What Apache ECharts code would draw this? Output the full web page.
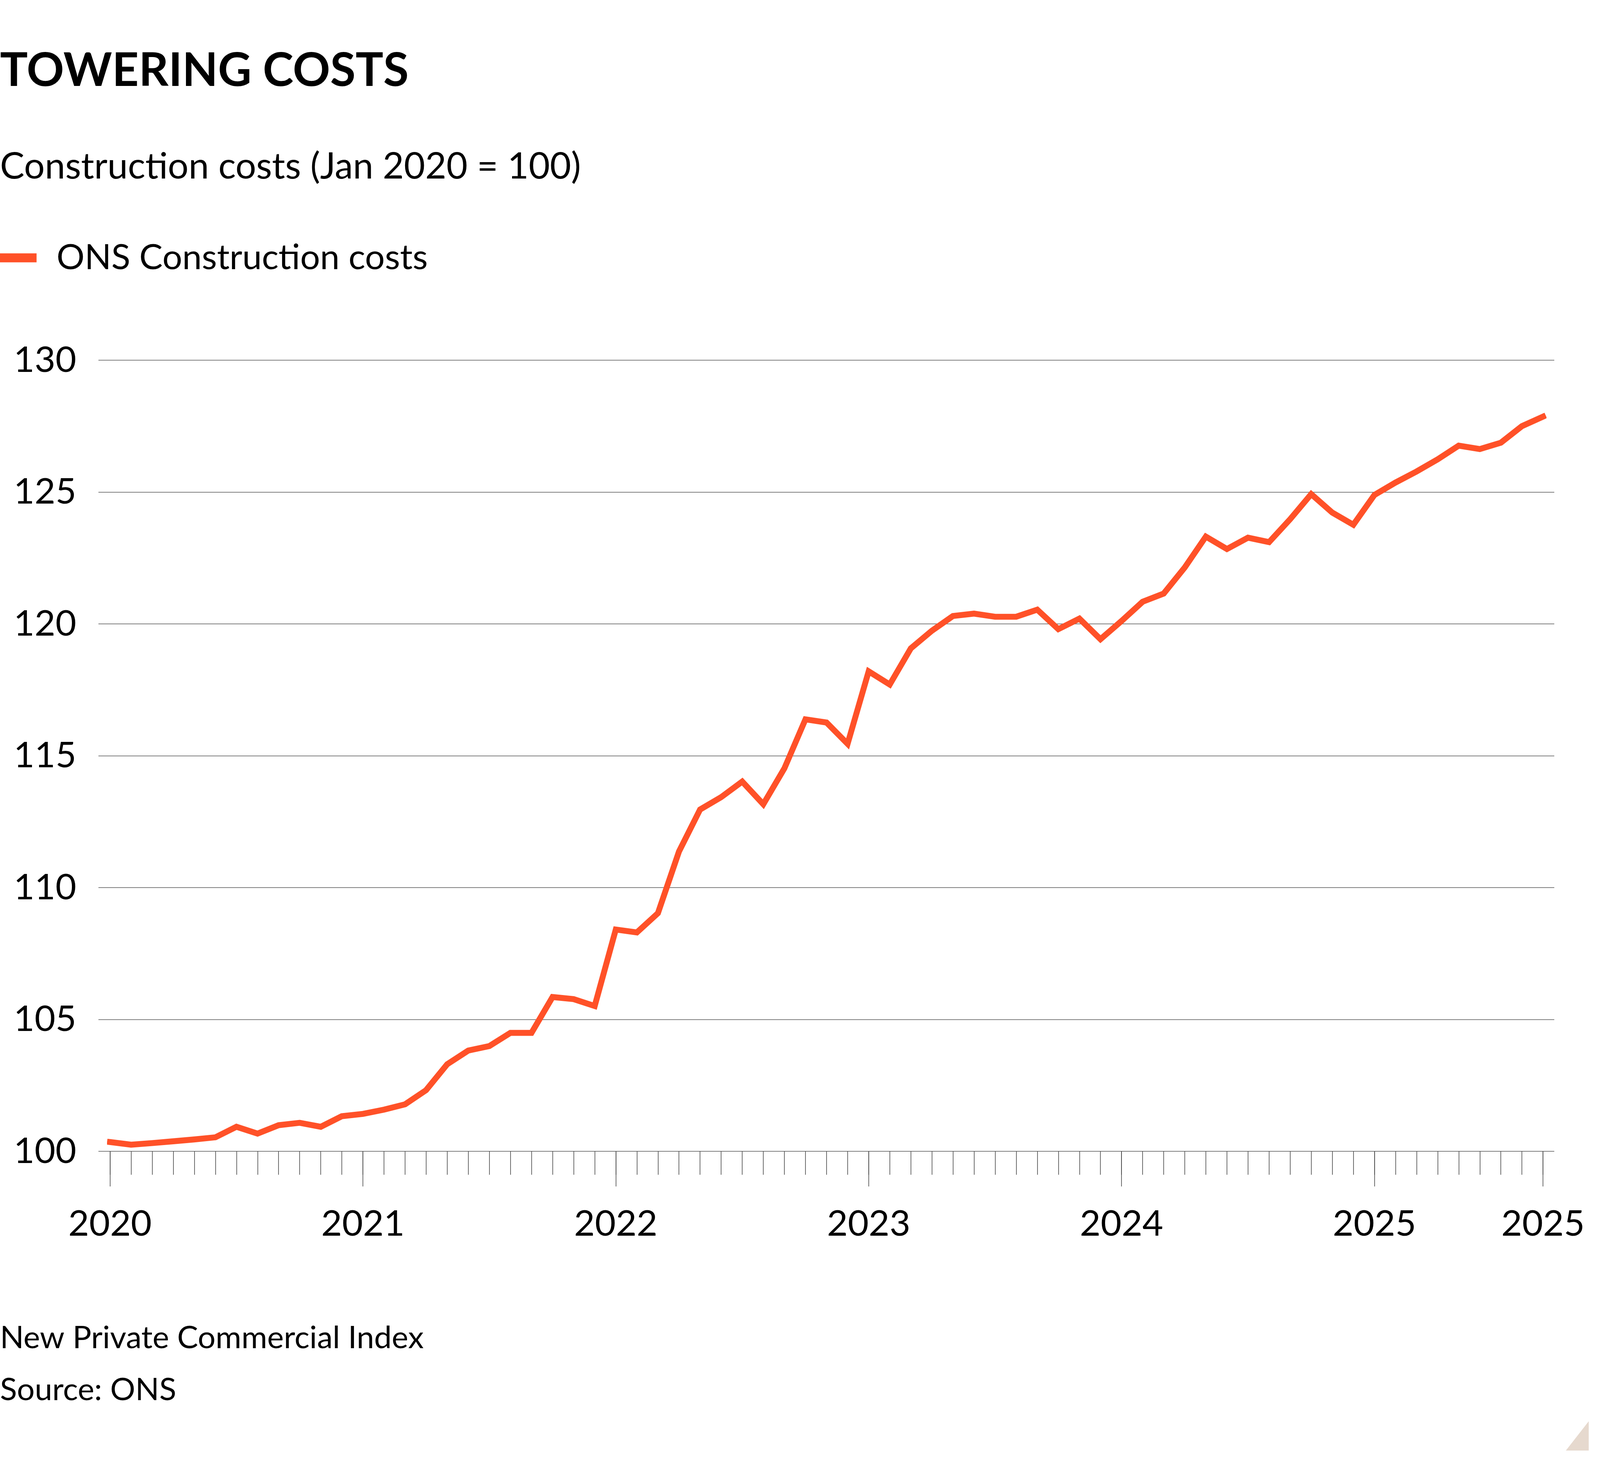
<!DOCTYPE html>
<html>
<head>
<meta charset="utf-8">
<script src="https://cdn.jsdelivr.net/npm/echarts@6/dist/echarts.min.js"></script>
<style>
html,body{margin:0;padding:0;background:#fff;overflow:hidden;}
#chart{width:100vw;height:100vh;}
</style>
</head>
<body>
<div id="chart"></div>
<script>
const months = [];
for (let y = 2020; y <= 2025; y++) {
  for (let m = 1; m <= 12; m++) {
    if (y === 2025 && m > 9) break;
    months.push(y + '-' + (m < 10 ? '0' + m : m));
  }
}
const onsCosts = [
  100.35, 100.25, 100.31, 100.38, 100.45, 100.53, 100.93, 100.67, 100.99, 101.08, 100.93, 101.33,
  101.42, 101.58, 101.78, 102.32, 103.30, 103.82, 103.99, 104.49, 104.49, 105.85, 105.77, 105.51,
  108.41, 108.30, 109.03, 111.37, 112.96, 113.43, 114.02, 113.16, 114.52, 116.38, 116.26, 115.45,
  118.20, 117.70, 119.07, 119.74, 120.30, 120.39, 120.27, 120.27, 120.54, 119.80, 120.20, 119.42,
  120.11, 120.84, 121.15, 122.14, 123.31, 122.84, 123.27, 123.10, 123.97, 124.92, 124.22, 123.76,
  124.89, 125.36, 125.78, 126.24, 126.76, 126.63, 126.87, 127.50, 127.86
];
const yTicks = [100, 105, 110, 115, 120, 125, 130];
const titleText = 'TOWERING COSTS';
const subtitleText = 'Construction costs (Jan 2020 = 100)';
const seriesName = 'ONS Construction costs';
const footnoteText = 'New Private Commercial Index';
const sourceText = 'Source: ONS';

const FONT = 'Lato';
const lastIdx = months.length - 1;
const isMajor = (i) => i % 12 === 0 || i === lastIdx;

const el = document.getElementById('chart');
const W = el.clientWidth || window.innerWidth;
const H = el.clientHeight || window.innerHeight;
const S = W / 5250;
const SY = H / 3750;
const p = (v) => v * S;
const py = (v) => v * SY;

const chart = echarts.init(el, null, {renderer: 'canvas'});
chart.setOption({
  backgroundColor: '#ffffff',
  animation: false,
  title: [
    {text: titleText, left: 0, top: py(182) - p(76), padding: 0,
     textStyle: {fontFamily: FONT, fontWeight: 'bold', fontSize: p(152), lineHeight: p(152), color: '#000'}},
    {text: subtitleText, left: 0, top: py(427) - p(60), padding: 0,
     textStyle: {fontFamily: FONT, fontWeight: 'normal', fontSize: p(120), lineHeight: p(120), color: '#000'}},
    {text: footnoteText, left: 0, top: py(3425) - p(51.5), padding: 0,
     textStyle: {fontFamily: FONT, fontWeight: 'normal', fontSize: p(103), lineHeight: p(103), color: '#000'}},
    {text: sourceText, left: 0, top: py(3558) - p(51.5), padding: 0,
     textStyle: {fontFamily: FONT, fontWeight: 'normal', fontSize: p(103), lineHeight: p(103), color: '#000'}}
  ],
  legend: {
    left: 0, top: py(660) - p(58), padding: 0,
    icon: 'rect', itemWidth: p(120), itemHeight: py(23),
    data: [seriesName],
    textStyle: {fontFamily: FONT, fontSize: p(115), lineHeight: p(116), color: '#000', padding: [0, 0, 0, p(59)]}
  },
  grid: [
    {left: p(323), right: p(150), top: py(922), bottom: py(803), containLabel: false},
    {left: p(361), right: p(187), top: py(922), bottom: py(803), containLabel: false}
  ],
  xAxis: [
    {type: 'value', gridIndex: 0, show: false, min: 0, max: 1},
    {type: 'category', gridIndex: 1, position: 'bottom', data: months, boundaryGap: false,
     axisLine: {show: false},
     axisTick: {show: true, interval: 0, length: py(60), lineStyle: {color: '#444', width: p(2)}},
     axisLabel: {show: false}, splitLine: {show: false}},
    {type: 'category', gridIndex: 1, position: 'bottom', data: months, boundaryGap: false,
     axisLine: {show: false},
     axisTick: {show: true, interval: (i) => isMajor(i), length: py(90), lineStyle: {color: '#444', width: p(2)}},
     axisLabel: {show: true, interval: (i) => isMajor(i), formatter: (v) => v.slice(0, 4),
       margin: py(3133) - py(2947) - p(59), fontFamily: FONT, fontSize: p(118), lineHeight: p(118), color: '#000'},
     splitLine: {show: false}}
  ],
  yAxis: [
    {type: 'value', gridIndex: 0, min: yTicks[0], max: yTicks[yTicks.length - 1], interval: 5,
     axisLine: {show: false}, axisTick: {show: false},
     axisLabel: {show: true, align: 'left', margin: p(278), fontFamily: FONT, fontSize: p(118), color: '#000'},
     splitLine: {show: true, lineStyle: {color: '#555', width: p(2)}}},
    {type: 'value', gridIndex: 1, min: yTicks[0], max: yTicks[yTicks.length - 1], interval: 5, show: false,
     splitLine: {show: false}}
  ],
  series: [
    {name: seriesName, type: 'line', xAxisIndex: 1, yAxisIndex: 1, data: onsCosts,
     symbol: 'none', color: '#ff5128',
     lineStyle: {width: (p(17) + py(17)) / 2, color: '#ff5128', cap: 'square', join: 'miter'}}
  ],
  graphic: [
    {type: 'polygon', shape: {points: [[p(5213), py(3638)], [p(5213), py(3713)], [p(5138), py(3713)]]},
     style: {fill: '#e6d9ce'}, silent: true}
  ]
});
</script>
</body>
</html>
